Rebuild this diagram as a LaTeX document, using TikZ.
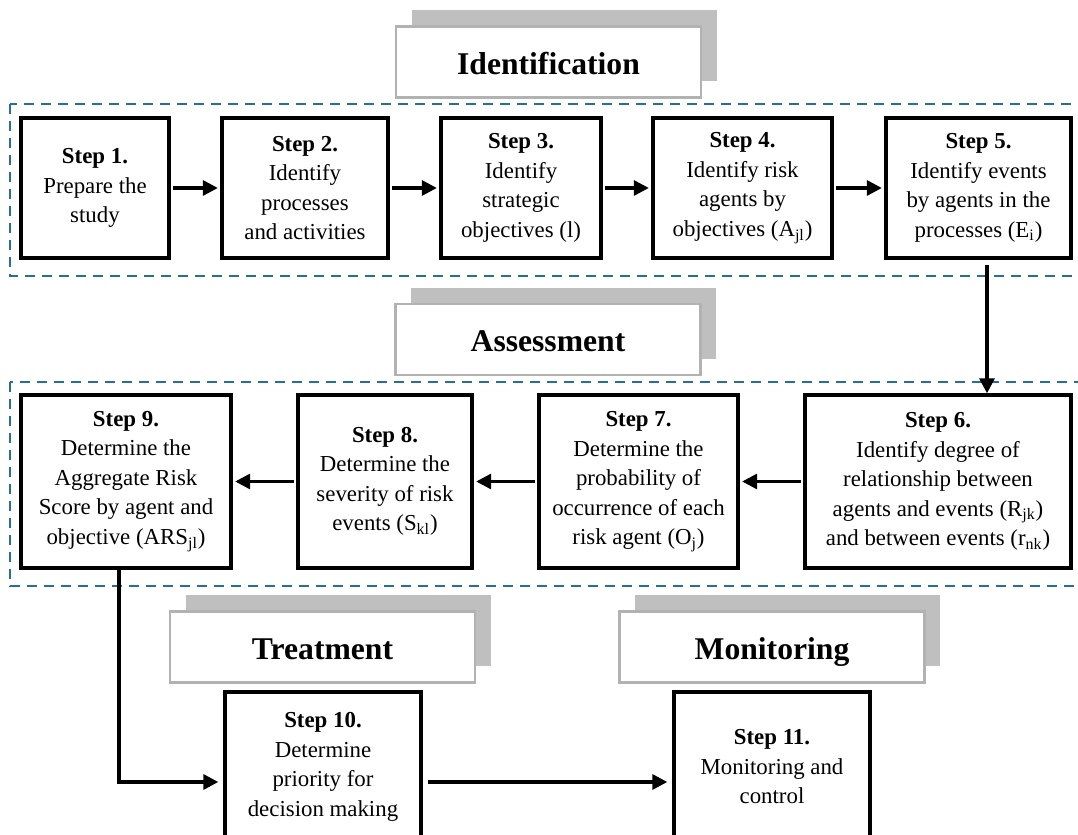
\documentclass[tikz,border=0pt]{standalone}
\usepackage{fontspec}
\setmainfont{Liberation Serif}
\usetikzlibrary{arrows.meta, positioning, shadows}
\definecolor{zoneblue}{RGB}{40, 110, 155}
\definecolor{tabgray}{RGB}{191, 191, 191}
\definecolor{tabline}{RGB}{178, 178, 178}

\begin{document}
\begin{tikzpicture}[
  stepbox/.style={draw, line width=1.9pt, fill=white, align=center, inner sep=2pt, font=\fontsize{13}{16.8}\selectfont},
  phasebox/.style={draw=tabline, line width=1.4pt, fill=white, minimum width=6.1cm, minimum height=1.42cm, text height=14pt, text depth=0pt, font=\fontsize{18}{22}\selectfont\bfseries, general shadow={fill=tabgray, draw=none, shadow xshift=0.31cm, shadow yshift=0.32cm}},
  flow/.style={line width=1.8pt, -{Triangle[length=0.3cm, width=0.3cm]}},
  zone/.style={draw=zoneblue, line width=1.4pt, dash pattern=on 0.2cm off 0.14cm}
]
  \useasboundingbox (0,0) rectangle (21.56,16.68);
  \clip (0,0) rectangle (21.56,16.68);

  % Dashed zones
  \draw[zone] (0.2,14.6) rectangle (22.5,11.16);
  \draw[zone] (0.2,9.04) rectangle (22.5,4.96);

  % Phase tabs
  \node[phasebox] (idtab) at (10.97,15.44) {Identification};
  \node[phasebox] (astab) at (10.96,9.89) {Assessment};
  \node[phasebox] (trtab) at (6.45,3.74) {Treatment};
  \node[phasebox] (motab) at (15.44,3.74) {Monitoring};

  % Identification steps
  \node[stepbox, minimum width=2.96cm, minimum height=2.8cm] (s1) at (1.90,12.92) {\textbf{Step 1.}\\Prepare the\\study};
  \node[stepbox, minimum width=3.32cm, minimum height=2.8cm] (s2) at (6.10,12.92) {\textbf{Step 2.}\\Identify\\processes\\and activities};
  \node[stepbox, minimum width=3.2cm, minimum height=2.8cm] (s3) at (10.42,12.92) {\textbf{Step 3.}\\Identify\\strategic\\objectives (l)};
  \node[stepbox, minimum width=3.58cm, minimum height=2.8cm] (s4) at (14.85,12.92) {\textbf{Step 4.}\\Identify risk\\agents by\\objectives (A\textsubscript{jl})};
  \node[stepbox, minimum width=3.7cm, minimum height=2.8cm] (s5) at (19.57,12.92) {\textbf{Step 5.}\\Identify events\\by agents in the\\processes (E\textsubscript{i})};

  % Assessment steps
  \node[stepbox, minimum width=5.32cm, minimum height=3.46cm] (s6) at (18.76,7.05) {\textbf{Step 6.}\\Identify degree of\\relationship between\\agents and events (R\textsubscript{jk})\\and between events (r\textsubscript{nk})};
  \node[stepbox, minimum width=3.98cm, minimum height=3.46cm] (s7) at (12.77,7.05) {\textbf{Step 7.}\\Determine the\\probability of\\occurrence of each\\risk agent (O\textsubscript{j})};
  \node[stepbox, minimum width=3.48cm, minimum height=3.46cm] (s8) at (7.70,7.05) {\textbf{Step 8.}\\Determine the\\severity of risk\\events (S\textsubscript{kl})};
  \node[stepbox, minimum width=4.2cm, minimum height=3.46cm] (s9) at (2.52,7.05) {\textbf{Step 9.}\\Determine the\\Aggregate Risk\\Score by agent and\\objective (ARS\textsubscript{jl})};

  % Treatment and monitoring
  \node[stepbox, minimum width=3.92cm, minimum height=3cm] (s10) at (6.46,1.34) {\textbf{Step 10.}\\Determine\\priority for\\decision making};
  \node[stepbox, minimum width=3.92cm, minimum height=3cm] (s11) at (15.44,1.34) {\textbf{Step 11.}\\Monitoring and\\control};

  % Flow
  \draw[flow, shorten <=0.05cm, shorten >=0.05cm] (s1) -- (s2);
  \draw[flow, shorten <=0.05cm, shorten >=0.05cm] (s2) -- (s3);
  \draw[flow, shorten <=0.05cm, shorten >=0.05cm] (s3) -- (s4);
  \draw[flow, shorten <=0.05cm, shorten >=0.05cm] (s4) -- (s5);
  \draw[flow, shorten <=0.1cm] ([xshift=0.17cm]s5.south) -- ([xshift=0.17cm]s5.south |- s6.north);
  \draw[flow, shorten <=0.05cm, shorten >=0.05cm] (s6) -- (s7);
  \draw[flow, shorten <=0.05cm, shorten >=0.05cm] (s7) -- (s8);
  \draw[flow, shorten <=0.05cm, shorten >=0.05cm] (s8) -- (s9);
  \draw[flow, shorten >=0.1cm] ([xshift=-0.14cm]s9.south) |- ([yshift=-0.3cm]s10.west);
  \draw[flow, shorten <=0.1cm, shorten >=0.1cm] ([yshift=-0.3cm]s10.east) -- ([yshift=-0.3cm]s11.west);
\end{tikzpicture}
\end{document}
